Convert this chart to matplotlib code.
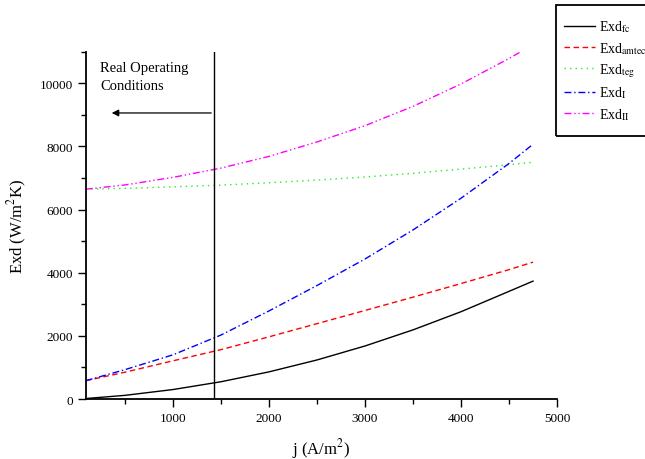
import numpy as np
import matplotlib
matplotlib.use("Agg")
import matplotlib.pyplot as plt
from matplotlib.ticker import MultipleLocator
from matplotlib.patches import Rectangle

plt.rcParams['font.family'] = ['Liberation Serif', 'DejaVu Serif']
plt.rcParams['mathtext.fontset'] = 'stix'

# data
j = [91, 500, 1000, 1500, 2000, 2500, 3000, 3500, 4000, 4500, 4750]
exd_fc = [15, 116, 300, 547, 860, 1237, 1680, 2190, 2765, 3410, 3734]
exd_amtec = [580, 850, 1210, 1564, 1970, 2387, 2805, 3226, 3657, 4098, 4335]
exd_teg = [6645, 6670, 6720, 6775, 6850, 6935, 7032, 7149, 7281, 7421, 7500]
exd_I = [580, 930, 1400, 2027, 2790, 3595, 4435, 5355, 6360, 7460, 8070]
exd_II = [6645, 6780, 7020, 7314, 7685, 8143, 8657, 9269, 9979, 10786, 11220]
j_real = 1427

fig = plt.figure(figsize=(6.45, 4.6), dpi=100)
ax = fig.add_axes([0.1329, 0.1304, 0.7307, 0.755])

ax.plot(j, exd_fc, color='black', lw=1.0, label=r'Exd$_{\rm fc}$')
ax.plot(j, exd_amtec, color='red', lw=1.0, ls=(0, (4, 2.5)), label=r'Exd$_{\rm amtec}$')
ax.plot(j, exd_teg, color='#22ee22', lw=1.0, ls=(0, (1, 3)), label=r'Exd$_{\rm teg}$')
ax.plot(j, exd_I, color='blue', lw=1.0, ls=(0, (5, 2, 1, 2)), label=r'Exd$_{\rm I}$')
ax.plot(j, exd_II, color='magenta', lw=1.0, ls=(0, (5, 2, 1, 2, 1, 2)), label=r'Exd$_{\rm II}$')

ax.axvline(j_real, color='black', lw=1.0)
ax.annotate('', xy=(333, 9060), xytext=(j_real, 9060),
            arrowprops=dict(arrowstyle='-|>', color='black', lw=0.9,
                            mutation_scale=10))
ax.text(240, 10720, 'Real Operating\nConditions', fontsize=10.5,
        va='top', ha='left', linespacing=1.55)

ax.set_xlim(91, 5000)
ax.set_ylim(0, 11000)
ax.xaxis.set_major_locator(MultipleLocator(1000))
ax.xaxis.set_minor_locator(MultipleLocator(500))
ax.yaxis.set_major_locator(MultipleLocator(2000))
ax.yaxis.set_minor_locator(MultipleLocator(1000))
ax.tick_params(which='major', direction='out', length=5.5, width=1.0, labelsize=9.5)
ax.tick_params(which='minor', direction='out', length=3.5, width=1.0)
ax.spines['top'].set_visible(False)
ax.spines['right'].set_visible(False)
ax.spines['left'].set_linewidth(1.3)
ax.spines['bottom'].set_linewidth(1.3)

ax.set_xlabel(r'j (A/m$^2$)', fontsize=12, labelpad=9)
ax.set_ylabel(r'Exd (W/m$^2$K)', fontsize=12, labelpad=8)

# legend entries without frame, box drawn separately (it runs off the right edge)
leg = fig.legend(loc='upper left', bbox_to_anchor=(564 / 645, 1 - 19.5 / 460),
                 fontsize=10, frameon=False,
                 handlelength=2.2, handletextpad=0.3, labelspacing=0.4,
                 borderpad=0, borderaxespad=0)
fig.patches.append(Rectangle((556 / 645, 1 - 137 / 460), 0.2, 130.5 / 460,
                             transform=fig.transFigure, fill=False,
                             edgecolor='black', lw=1.3))

fig.savefig('out.png', dpi=100)
